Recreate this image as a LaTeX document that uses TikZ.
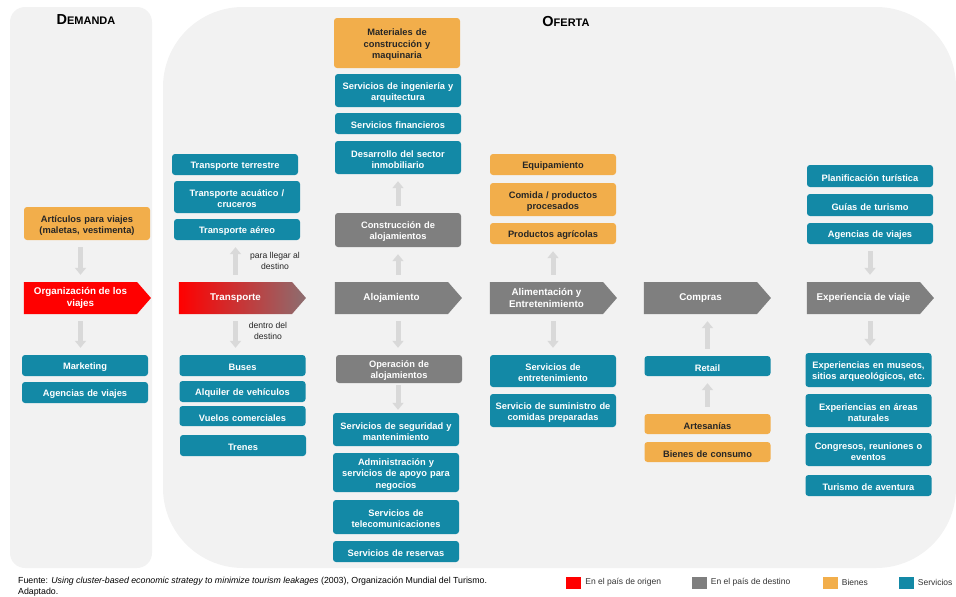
\documentclass[tikz,border=0pt]{standalone}
\usepackage{fontspec}
\setmainfont{Liberation Sans}
\usetikzlibrary{arrows.meta, positioning, shapes.symbols}

\definecolor{servc}{HTML}{1389A6}
\definecolor{bienc}{HTML}{F2AE4B}
\definecolor{destc}{HTML}{7F7F7F}
\definecolor{origc}{HTML}{FF0000}
\definecolor{transc}{HTML}{8C6E70}
\definecolor{panelc}{HTML}{F2F2F2}
\definecolor{flowc}{HTML}{D9D9D9}

\newcommand{\scword}[2]{{\fontsize{14.5}{14}\selectfont #1}{\fontsize{11}{14}\selectfont #2}}

\begin{document}
\begin{tikzpicture}[
  x=1pt, y=-1pt,
  box/.style = {rounded corners=3pt, minimum width=126pt, text width=124pt, inner xsep=1pt, inner ysep=0pt, align=center, font=\bfseries\fontsize{9.3}{11.3}\selectfont, execute at begin node={\rule{0pt}{10.5pt}}},
  serv/.style = {box, fill=servc, text=white, minimum height=#1},
  serv/.default = 21pt,
  bien/.style = {box, fill=bienc, text=black!85, minimum height=#1},
  bien/.default = 21pt,
  dest/.style = {box, fill=destc, text=white, minimum height=#1},
  dest/.default = 21pt,
  stage/.style = {signal, signal to=east, signal pointer angle=98, minimum width=127pt, minimum height=32pt, inner sep=0pt, align=center, text=white, font=\bfseries\fontsize{9.8}{11.5}\selectfont},
  flow/.style = {line width=5pt, draw=flowc, -{Triangle[width=11pt, length=7pt]}, shorten <=7pt, shorten >=7pt},
  note/.style = {font=\fontsize{8.6}{10.5}\selectfont, align=center, text=black!85, inner sep=0pt},
  key/.style = {minimum width=15pt, minimum height=12pt, inner sep=0pt},
  keytext/.style = {font=\fontsize{8.5}{10}\selectfont, text=black!80, inner sep=0pt, right=4pt of #1}
]

  \useasboundingbox (0,0) rectangle (956,597);

  % Panels
  \fill[panelc, rounded corners=15pt] (10,7) rectangle (152,568);
  \fill[panelc, rounded corners=80pt] (163,7) rectangle (956,568);
  \node[font=\bfseries] (demanda) at (86,20) {\scword{D}{EMANDA}};
  \node[font=\bfseries] (oferta) at (566,22) {\scword{O}{FERTA}};

  % Demanda
  \node[bien=33pt] (articulos) at (87,223.5) {Artículos para viajes\\(maletas, vestimenta)};
  \node[stage, fill=origc] (org) at (80.5,298) {Organización de los\\viajes};
  \node[serv] (marketing) at (85,365.5) {Marketing};
  \node[serv] (agencias_d) at (85,392.5) {Agencias de viajes};

  % Transporte
  \node[serv] (terrestre) at (235,164.5) {Transporte terrestre};
  \node[serv=32pt] (acuatico) at (237,197) {Transporte acuático /\\cruceros};
  \node[serv] (aereo) at (237,229.5) {Transporte aéreo};
  \node[stage, left color=origc, right color=transc] (transporte) at (235.5,298) {Transporte};
  \node[serv] (buses) at (242.5,365.5) {Buses};
  \node[serv] (alquiler) at (242.5,391.5) {Alquiler de vehículos};
  \node[serv=20pt] (vuelos) at (242.5,416) {Vuelos comerciales};
  \node[serv] (trenes) at (243,445.5) {Trenes};
  \node[note] (llegar) at (275,261) {para llegar al\\destino};
  \node[note] (dentro) at (268,331) {dentro del\\destino};

  % Alojamiento
  \node[bien=50pt] (materiales) at (397,43) {Materiales de\\construcción y\\maquinaria};
  \node[serv=33pt] (ingenieria) at (398,90.5) {Servicios de ingeniería y\\arquitectura};
  \node[serv] (financieros) at (398,123.5) {Servicios financieros};
  \node[serv=33pt] (inmobiliario) at (398,157.5) {Desarrollo del sector\\inmobiliario};
  \node[dest=34pt] (construccion) at (398,230) {Construcción de\\alojamientos};
  \node[stage, fill=destc] (alojamiento) at (391.5,298) {Alojamiento};
  \node[dest=28pt] (operacion) at (399,369) {Operación de\\alojamientos};
  \node[serv=33pt] (seguridad) at (396,429.5) {Servicios de seguridad y\\mantenimiento};
  \node[serv=39pt] (administracion) at (396,472.5) {Administración y\\servicios de apoyo para\\negocios};
  \node[serv=34pt] (telecom) at (396,517) {Servicios de\\telecomunicaciones};
  \node[serv] (reservas) at (396,551.5) {Servicios de reservas};

  % Alimentacion
  \node[bien] (equipamiento) at (553,164.5) {Equipamiento};
  \node[bien=33pt] (comida) at (553,199.5) {Comida / productos\\procesados};
  \node[bien] (agricolas) at (553,233.5) {Productos agrícolas};
  \node[stage, fill=destc] (alimentacion) at (546.5,298) {Alimentación y\\Entretenimiento};
  \node[serv=32pt] (entretenimiento) at (553,371) {Servicios de\\entretenimiento};
  \node[serv=33pt] (suministro) at (553,410.5) {Servicio de suministro de\\comidas preparadas};

  % Compras
  \node[stage, fill=destc] (compras) at (700.5,298) {Compras};
  \node[serv=20pt] (retail) at (707.5,366) {Retail};
  \node[bien=20pt] (artesanias) at (707.5,424) {Artesanías};
  \node[bien=20pt] (consumo) at (707.5,452) {Bienes de consumo};

  % Experiencia
  \node[serv=22pt] (planificacion) at (870,176) {Planificación turística};
  \node[serv=22pt] (guias) at (870,205) {Guías de turismo};
  \node[serv] (agencias_o) at (870,233.5) {Agencias de viajes};
  \node[stage, fill=destc] (experiencia) at (863.5,298) {Experiencia de viaje};
  \node[serv=34pt] (museos) at (868.5,370) {Experiencias en museos,\\sitios arqueológicos, etc.};
  \node[serv=33pt] (naturales) at (868.5,410.5) {Experiencias en áreas\\naturales};
  \node[serv=33pt] (congresos) at (868.5,449.5) {Congresos, reuniones o\\eventos};
  \node[serv] (aventura) at (868.5,485.5) {Turismo de aventura};

  % Flows
  \draw[flow] (org.north |- articulos.south) -- (org.north);
  \draw[flow] (org.south) -- (org.south |- marketing.north);
  \draw[flow] (transporte.north) -- (transporte.north |- aereo.south);
  \draw[flow] (transporte.south) -- (transporte.south |- buses.north);
  \draw[flow] (construccion.south |- alojamiento.north) -- (construccion.south);
  \draw[flow] (construccion.north) -- (construccion.north |- inmobiliario.south);
  \draw[flow] (construccion.south |- alojamiento.south) -- (construccion.south |- operacion.north);
  \draw[flow, shorten <=2pt, shorten >=3pt] (operacion.south -| construccion.south) -- (construccion.south |- seguridad.north);
  \draw[flow] (agricolas.south |- alimentacion.north) -- (agricolas.south);
  \draw[flow] (entretenimiento.north |- alimentacion.south) -- (entretenimiento.north);
  \draw[flow] (retail.north) -- (retail.north |- compras.south);
  \draw[flow] (artesanias.north) -- (retail.south);
  \draw[flow] (agencias_o.south) -- (agencias_o.south |- experiencia.north);
  \draw[flow] (agencias_o.south |- experiencia.south) -- (agencias_o.south |- museos.north);

  % Source
  \node[anchor=base west, inner sep=0pt, font=\fontsize{8.8}{10}\selectfont] (fuente) at (18,583) {Fuente: \textit{Using cluster-based economic strategy to minimize tourism leakages} (2003), Organización Mundial del Turismo.};
  \node[anchor=base west, inner sep=0pt, font=\fontsize{8.8}{10}\selectfont] (adaptado) at (18,594.5) {Adaptado.};

  % Legend
  \node[key, fill=origc] (key_origen) at (573.5,582.5) {};
  \node[keytext=key_origen] (txt_origen) {En el país de origen};
  \node[key, fill=destc] (key_destino) at (699,582.5) {};
  \node[keytext=key_destino] (txt_destino) {En el país de destino};
  \node[key, fill=bienc] (key_bienes) at (830,582.5) {};
  \node[keytext=key_bienes] (txt_bienes) {Bienes};
  \node[key, fill=servc] (key_servicios) at (906,582.5) {};
  \node[keytext=key_servicios] (txt_servicios) {Servicios};

\end{tikzpicture}
\end{document}
